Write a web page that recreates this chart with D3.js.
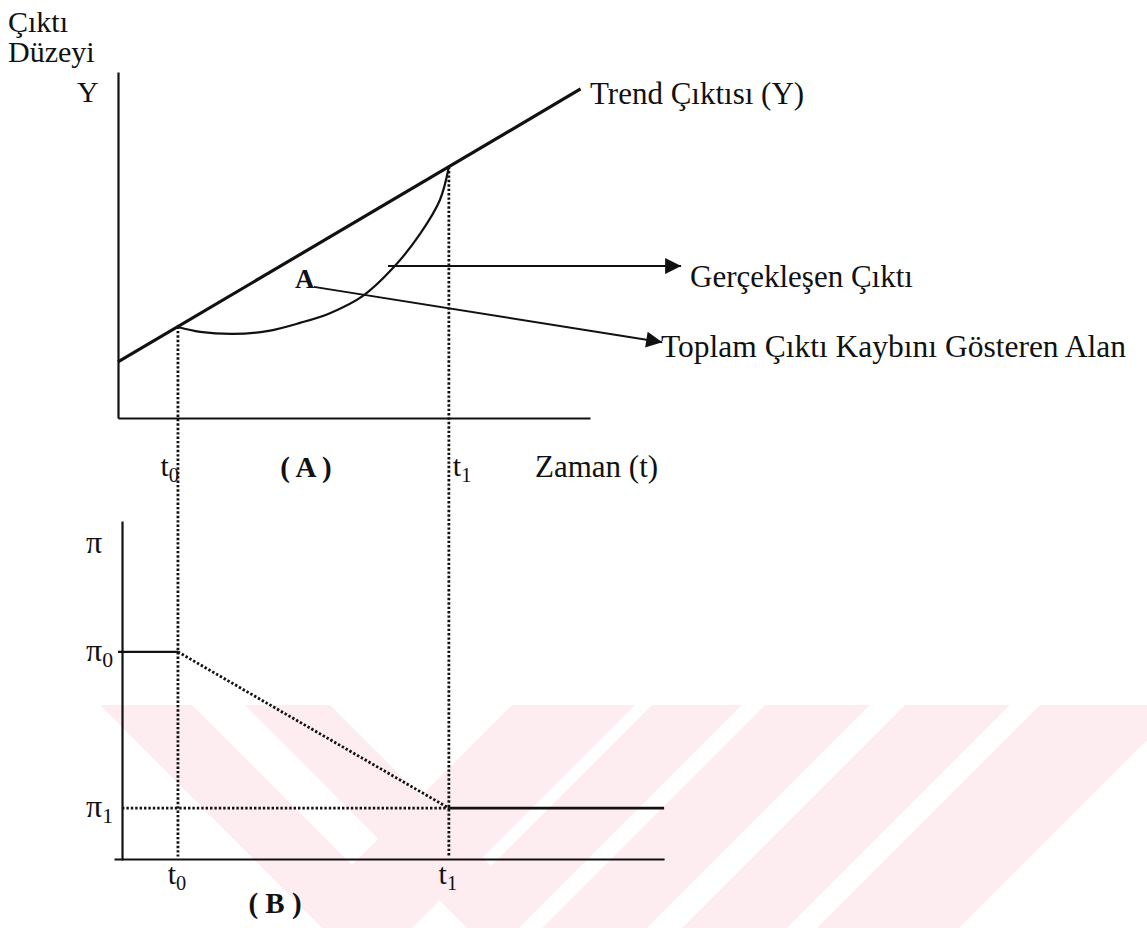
<!DOCTYPE html>
<html>
<head>
<meta charset="utf-8">
<script src="https://cdn.jsdelivr.net/npm/d3@7"></script>
<style>
  body { margin: 0; background: #fff; }
  svg text { font-family: "Liberation Serif", "Times New Roman", serif; fill: #111; }
</style>
</head>
<body>
<svg id="chart" width="1147" height="928"></svg>
<script>
// time marks t0, t1 (time units)
const tMarks = [12.7, 70.1];
const tNames = ['0', '1'];

// trend output line
const trendT = [0, 98];
const trendY = [16.2, 95.1];

// realised output path
const actualT = [12.7, 17.4, 24.4, 31.6, 38.6, 44.9, 51.9, 58.3, 64.0, 68.2, 70.1];
const actualY = [26.3, 24.9, 24.3, 25.1, 27.5, 30.3, 35.3, 43.4, 53.2, 63.0, 72.6];

// inflation path
const piT = [0, 12.7, 70.1, 115.7];
const piY = [61.4, 61.4, 15.3, 15.3];
const piNames = ['0', '1'];

const svg = d3.select('#chart');
const ink = '#111';

// watermark (decorative background bands)
const wm = svg.append('g').attr('fill', '#fdedf0');
const bands = [
    [[100, 705], [192, 705], [352, 865], [512, 705], [635, 705], [367, 973]],
    [[245, 705], [330, 705], [491, 866], [652, 705], [742, 705], [493, 954]],
    [[765, 705], [870, 705], [647, 928], [542, 928]],
    [[905, 705], [1010, 705], [787, 928], [682, 928]],
    [[1040, 705], [1147, 705], [1147, 740], [959, 928], [817, 928]]
];
wm.selectAll('polygon').data(bands).join('polygon')
    .attr('points', d => d.map(p => p.join(',')).join(' '));

// ---------- Panel (A) ----------
const x = d3.scaleLinear().domain([0, 100]).range([118, 590]);
const yA = d3.scaleLinear().domain([0, 100]).range([418, 72]);
// panel (B)
const xB = d3.scaleLinear().domain([-0.85, 115.7]).range([x(-0.85), x(115.7)]);
const yB = d3.scaleLinear().domain([0, 100]).range([860, 521]);

const axisStyle = g => {
    g.select('.domain').attr('stroke', ink).attr('stroke-width', 2.2);
    g.selectAll('.tick').remove();
};

svg.append('g').attr('transform', `translate(${x(0)},0)`)
    .call(d3.axisLeft(yA).tickValues([]).tickSizeOuter(0)).call(axisStyle);
svg.append('g').attr('transform', `translate(0,${yA(0)})`)
    .call(d3.axisBottom(x).tickValues([]).tickSizeOuter(0)).call(axisStyle);

svg.append('g').attr('transform', `translate(${x(0.85)},0)`)
    .call(d3.axisLeft(yB).tickValues([]).tickSizeOuter(0)).call(axisStyle);
svg.append('g').attr('transform', `translate(0,${yB(0.3)})`)
    .call(d3.axisBottom(xB).tickValues([]).tickSizeOuter(0)).call(axisStyle);

// dotted guide lines from panel A down to panel B
const dotted = sel => sel.attr('stroke', ink).attr('stroke-width', 2.8)
    .attr('stroke-dasharray', '2.4,2').attr('fill', 'none');

const trendAt = t => trendY[0] + (trendY[1] - trendY[0]) * (t - trendT[0]) / (trendT[1] - trendT[0]);

svg.append('g').selectAll('line').data(tMarks).join('line')
    .attr('x1', d => x(d)).attr('x2', d => x(d))
    .attr('y1', d => yA(trendAt(d))).attr('y2', yB(1))
    .call(dotted);

// trend line
const trendLine = d3.line().x(d => x(d[0])).y(d => yA(d[1]));
svg.append('path')
    .attr('d', trendLine(d3.zip(trendT, trendY)))
    .attr('stroke', ink).attr('stroke-width', 3.2).attr('fill', 'none');

// realised output curve
const curve = d3.line().x(d => x(d[0])).y(d => yA(d[1])).curve(d3.curveCatmullRom.alpha(0.5));
svg.append('path')
    .attr('d', curve(d3.zip(actualT, actualY)))
    .attr('stroke', ink).attr('stroke-width', 2.2).attr('fill', 'none');

// annotation arrows
svg.append('defs').append('marker')
    .attr('id', 'head').attr('viewBox', '0 0 10 10')
    .attr('refX', 10).attr('refY', 5)
    .attr('markerWidth', 22).attr('markerHeight', 16)
    .attr('markerUnits', 'userSpaceOnUse').attr('orient', 'auto')
    .append('path').attr('d', 'M0,0 L10,5 L0,10 Z').attr('fill', ink);

const arrows = [
    [[57.2, 43.9], [119.3, 43.9]],
    [[41.5, 37.9], [115.3, 21.9]]
];
svg.append('g').selectAll('line').data(arrows).join('line')
    .attr('x1', d => x(d[0][0])).attr('y1', d => yA(d[0][1]))
    .attr('x2', d => x(d[1][0])).attr('y2', d => yA(d[1][1]))
    .attr('stroke', ink).attr('stroke-width', 2)
    .attr('marker-end', 'url(#head)');

// ---------- Panel (B) lines ----------
const piLine = d3.line().x(d => xB(d[0])).y(d => yB(d[1]));
const piPts = d3.zip(piT, piY);
svg.append('path').attr('d', piLine(piPts.slice(0, 2)))
    .attr('stroke', ink).attr('stroke-width', 2.4).attr('fill', 'none');
svg.append('path').attr('d', piLine(piPts.slice(1, 3))).call(dotted);
svg.append('path').attr('d', piLine(piPts.slice(2, 4)))
    .attr('stroke', ink).attr('stroke-width', 2.6).attr('fill', 'none');
svg.append('path').attr('d', piLine([[0.85, piY[2]], piPts[2]])).call(dotted);

// ---------- texts ----------
const txt = (px, py, s, size, opts = {}) => svg.append('text')
    .attr('x', px).attr('y', py)
    .attr('font-size', size)
    .attr('font-weight', opts.bold ? 'bold' : 'normal')
    .attr('text-anchor', opts.anchor || 'start')
    .text(s);

const sub = (px, py, base, s, size, anchor) => {
    const t = svg.append('text').attr('x', px).attr('y', py)
        .attr('font-size', size).attr('text-anchor', anchor || 'start');
    t.append('tspan').text(base);
    t.append('tspan').attr('font-size', size * 0.68).attr('dy', 6).text(s);
    return t;
};

txt(8, 32, 'Çıktı', 30);
txt(8, 62, 'Düzeyi', 30);
txt(77, 102, 'Y', 30);
txt(590, 104, 'Trend Çıktısı (Y)', 31);
txt(690, 287, 'Gerçekleşen Çıktı', 31);
txt(295, 288, 'A', 27, { bold: true });
txt(661, 357, 'Toplam Çıktı Kaybını Gösteren Alan', 31.5);

tMarks.forEach((t, i) => {
    if (i === 0) sub(x(t) + 1, 476, 't', tNames[i], 30, 'end');
    else sub(x(t) + 4, 476, 't', tNames[i], 30, 'start');
});
txt(306, 477, '( A )', 29, { bold: true, anchor: 'middle' });
txt(535, 477, 'Zaman (t)', 31);

txt(86, 553, 'π', 32);
piNames.forEach((n, i) => sub(86, yB(piY[i + 1]) + 9, 'π', n, 32));

tMarks.forEach((t, i) => sub(x(t) - 1, 884, 't', tNames[i], 30, 'middle'));
txt(275, 913, '( B )', 29, { bold: true, anchor: 'middle' });
</script>
</body>
</html>
